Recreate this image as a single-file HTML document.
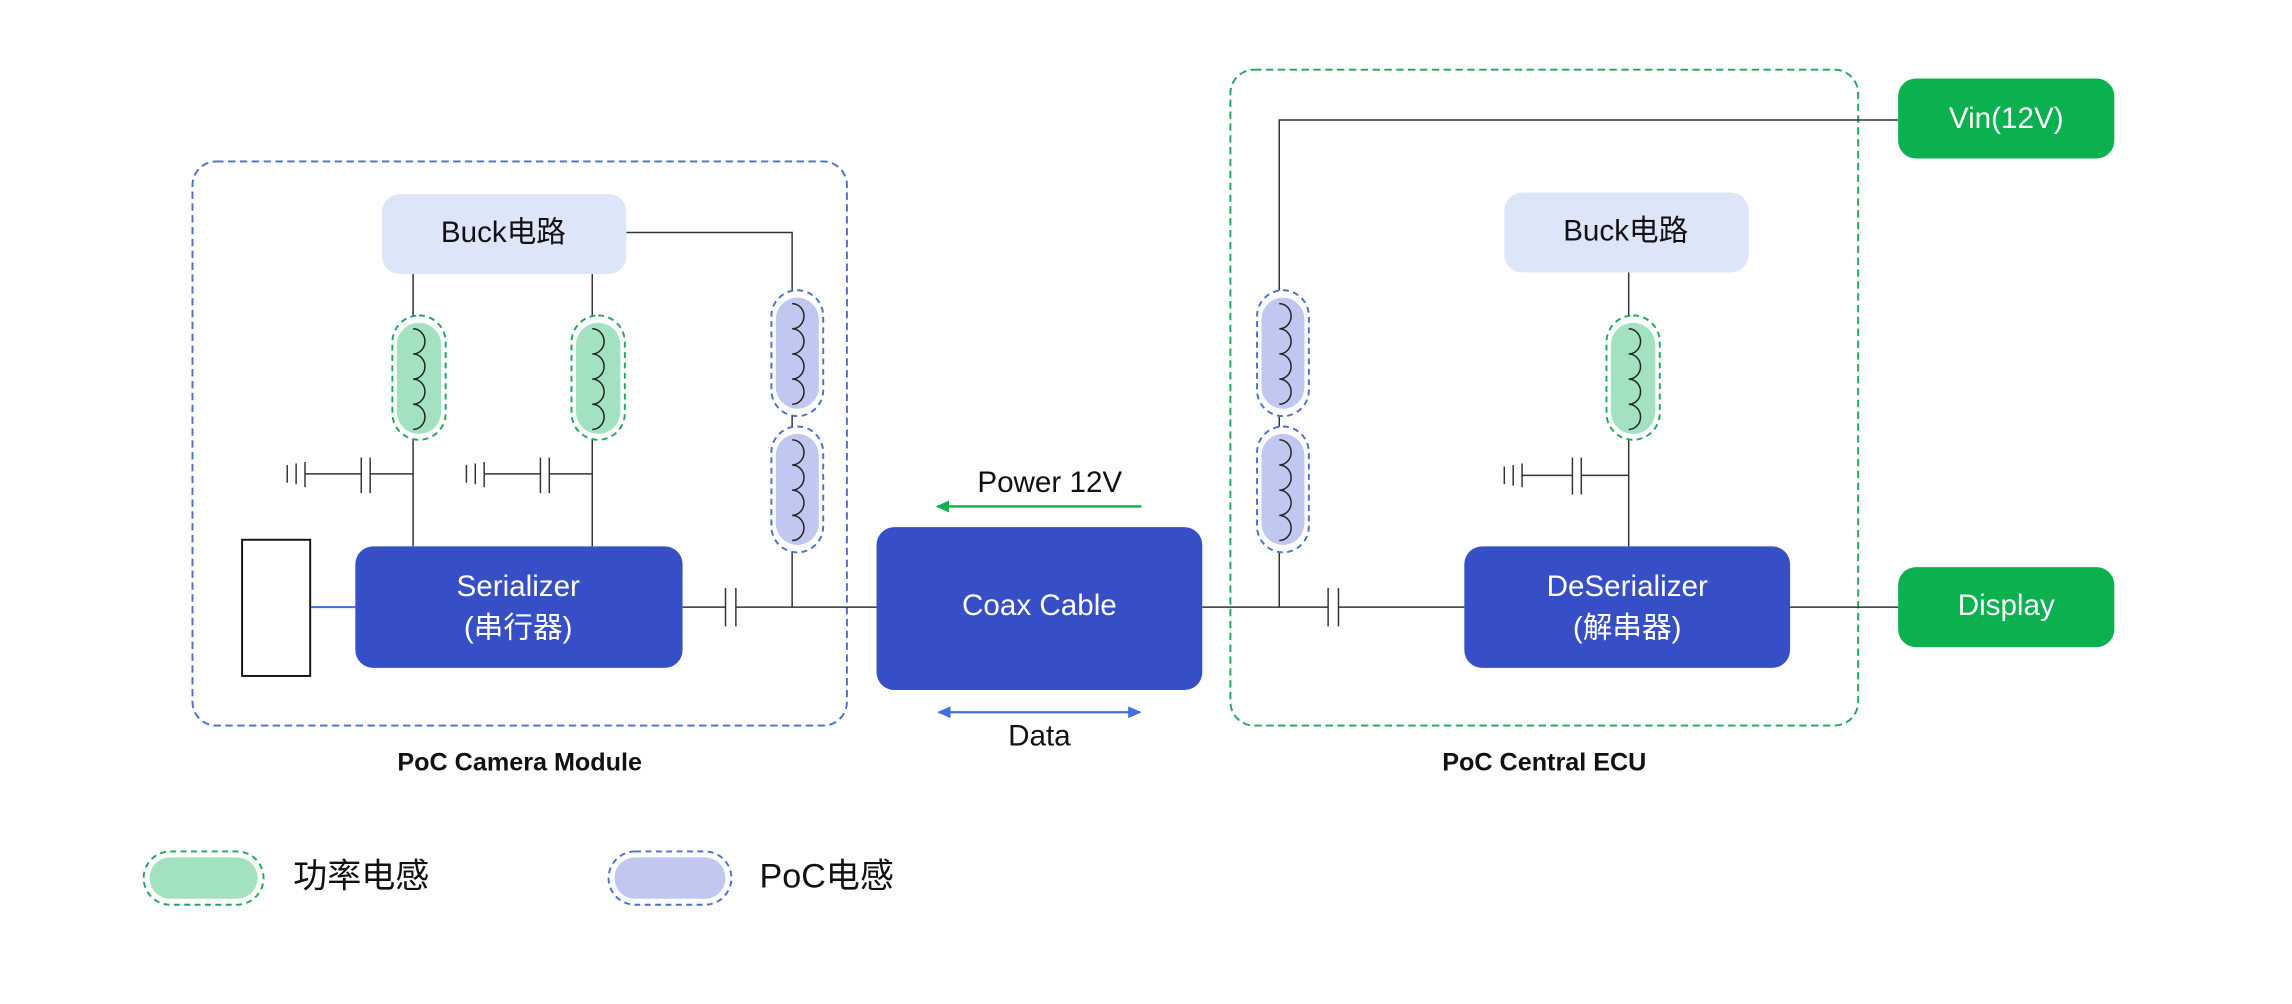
<!DOCTYPE html>
<html><head><meta charset="utf-8"><style>
html,body{margin:0;padding:0;background:#fff;}
svg{display:block;}
text{font-family:"Liberation Sans","Noto Sans CJK SC",sans-serif;}
</style></head><body>
<svg width="2292" height="1004" viewBox="0 0 1548 678" xmlns="http://www.w3.org/2000/svg">
<defs>
<marker id="ag" markerWidth="10" markerHeight="10" refX="8" refY="5" orient="auto-start-reverse" markerUnits="userSpaceOnUse"><path d="M0,1 L9,5 L0,9 z" fill="#0bb04f"/></marker>
<marker id="ab" markerWidth="10" markerHeight="10" refX="8" refY="5" orient="auto-start-reverse" markerUnits="userSpaceOnUse"><path d="M0,1 L9,5 L0,9 z" fill="#3d6fe0"/></marker>
</defs>
<rect width="1548" height="678" fill="#fff"/>
<!-- containers -->
<rect x="130" y="109" width="442" height="381" rx="16" fill="none" stroke="#4a6fd0" stroke-width="1.3" stroke-dasharray="5,3"/>
<rect x="831" y="47" width="424" height="443" rx="16" fill="none" stroke="#1ea85a" stroke-width="1.3" stroke-dasharray="5,3"/>
<g fill="none" stroke="#333" stroke-width="1">
<!-- left wiring -->
<line x1="279" y1="185" x2="279" y2="369"/>
<line x1="400" y1="185" x2="400" y2="369"/>
<polyline points="423,157 535,157 535,410"/>
<line x1="461" y1="410" x2="490" y2="410"/><line x1="497" y1="410" x2="592" y2="410"/>
<line x1="490" y1="397" x2="490" y2="423"/><line x1="497" y1="397" x2="497" y2="423"/>
<!-- caps left -->
<line x1="279" y1="320" x2="250" y2="320"/><line x1="250" y1="309" x2="250" y2="333"/><line x1="244" y1="309" x2="244" y2="333"/><line x1="244" y1="320" x2="206" y2="320"/>
<line x1="206" y1="312" x2="206" y2="329"/><line x1="200" y1="313" x2="200" y2="327"/><line x1="194" y1="314" x2="194" y2="326"/>
<line x1="400" y1="320" x2="371" y2="320"/><line x1="371" y1="309" x2="371" y2="333"/><line x1="365" y1="309" x2="365" y2="333"/><line x1="365" y1="320" x2="327" y2="320"/>
<line x1="327" y1="312" x2="327" y2="329"/><line x1="321" y1="313" x2="321" y2="327"/><line x1="315" y1="314" x2="315" y2="326"/>
<!-- right wiring -->
<line x1="812" y1="410" x2="897" y2="410"/><line x1="904" y1="410" x2="989" y2="410"/>
<line x1="897" y1="397" x2="897" y2="423"/><line x1="904" y1="397" x2="904" y2="423"/>
<polyline points="864,410 864,81 1282,81"/>
<line x1="1100" y1="184" x2="1100" y2="369"/>
<line x1="1209" y1="410" x2="1282" y2="410"/>
<line x1="1100" y1="321" x2="1068" y2="321"/><line x1="1068" y1="309" x2="1068" y2="334"/><line x1="1062" y1="309" x2="1062" y2="334"/><line x1="1062" y1="321" x2="1028" y2="321"/>
<line x1="1028" y1="313" x2="1028" y2="329"/><line x1="1022" y1="314" x2="1022" y2="328"/><line x1="1016" y1="315" x2="1016" y2="327"/>
</g>
<line x1="209" y1="410" x2="240" y2="410" stroke="#3d6fe0" stroke-width="1.3"/>
<!-- inductors -->
<g stroke-width="1.3" stroke-dasharray="4,3">
<rect x="265" y="213" width="36" height="84" rx="18" fill="#fff" stroke="#1ea85a"/>
<rect x="386" y="213" width="36" height="84" rx="18" fill="#fff" stroke="#1ea85a"/>
<rect x="1085" y="213" width="36" height="84" rx="18" fill="#fff" stroke="#1ea85a"/>
<rect x="521" y="196" width="35" height="85" rx="17.5" fill="#fff" stroke="#4a6fd0"/>
<rect x="521" y="288" width="35" height="85" rx="17.5" fill="#fff" stroke="#4a6fd0"/>
<rect x="849" y="196" width="35" height="85" rx="17.5" fill="#fff" stroke="#4a6fd0"/>
<rect x="849" y="288" width="35" height="85" rx="17.5" fill="#fff" stroke="#4a6fd0"/>
<rect x="97" y="575" width="81" height="36" rx="18" fill="#fff" stroke="#1ea85a"/>
<rect x="411" y="575" width="83" height="36" rx="18" fill="#fff" stroke="#4a6fd0"/>
</g>
<g>
<rect x="268" y="218" width="30" height="75" rx="15" fill="#a3e2c0"/>
<rect x="389" y="218" width="30" height="75" rx="15" fill="#a3e2c0"/>
<rect x="1088" y="218" width="30" height="75" rx="15" fill="#a3e2c0"/>
<rect x="524" y="201" width="29" height="75" rx="14.5" fill="#c0c7f0"/>
<rect x="524" y="293" width="29" height="75" rx="14.5" fill="#c0c7f0"/>
<rect x="852" y="201" width="29" height="75" rx="14.5" fill="#c0c7f0"/>
<rect x="852" y="293" width="29" height="75" rx="14.5" fill="#c0c7f0"/>
<rect x="101" y="579" width="73" height="28" rx="14" fill="#a3e2c0"/>
<rect x="415" y="579" width="75" height="28" rx="14" fill="#c0c7f0"/>
</g>
<g fill="none" stroke="#222" stroke-width="1">
<path d="M279,222 a8 8.5 0 0 1 0 17 a8 8.5 0 0 1 0 17 a8 8.5 0 0 1 0 17 a8 8.5 0 0 1 0 17"/>
<path d="M400,222 a8 8.5 0 0 1 0 17 a8 8.5 0 0 1 0 17 a8 8.5 0 0 1 0 17 a8 8.5 0 0 1 0 17"/>
<path d="M1100,222 a8 8.5 0 0 1 0 17 a8 8.5 0 0 1 0 17 a8 8.5 0 0 1 0 17 a8 8.5 0 0 1 0 17"/>
<path d="M535,205 a8 8.5 0 0 1 0 17 a8 8.5 0 0 1 0 17 a8 8.5 0 0 1 0 17 a8 8.5 0 0 1 0 17"/>
<path d="M535,297 a8 8.5 0 0 1 0 17 a8 8.5 0 0 1 0 17 a8 8.5 0 0 1 0 17 a8 8.5 0 0 1 0 17"/>
<path d="M864,205 a8 8.5 0 0 1 0 17 a8 8.5 0 0 1 0 17 a8 8.5 0 0 1 0 17 a8 8.5 0 0 1 0 17"/>
<path d="M864,297 a8 8.5 0 0 1 0 17 a8 8.5 0 0 1 0 17 a8 8.5 0 0 1 0 17 a8 8.5 0 0 1 0 17"/>
</g>
<!-- boxes -->
<rect x="258" y="131" width="165" height="54" rx="12" fill="#dde6f8"/>
<rect x="1016" y="130" width="165" height="54" rx="12" fill="#dde6f8"/>
<rect x="163.5" y="364.5" width="46" height="92" fill="#fff" stroke="#111" stroke-width="1.3"/>
<rect x="240" y="369" width="221" height="82" rx="12" fill="#364fc7"/>
<rect x="592" y="356" width="220" height="110" rx="12" fill="#364fc7"/>
<rect x="989" y="369" width="220" height="82" rx="12" fill="#364fc7"/>
<rect x="1282" y="53" width="146" height="54" rx="12" fill="#0bb04f"/>
<rect x="1282" y="383" width="146" height="54" rx="12" fill="#0bb04f"/>
<!-- arrows -->
<line x1="771" y1="342" x2="633" y2="342" stroke="#0bb04f" stroke-width="1.6" marker-end="url(#ag)"/>
<line x1="634" y1="481" x2="770" y2="481" stroke="#3d6fe0" stroke-width="1.6" marker-start="url(#ab)" marker-end="url(#ab)"/>
<!-- text -->
<g font-size="20" text-anchor="middle" dominant-baseline="central">
<text x="340" y="157" fill="#111">Buck电路</text>
<text x="1098" y="156" fill="#111">Buck电路</text>
<text x="350" y="396" fill="#fff">Serializer</text>
<text x="350" y="424" fill="#fff">(串行器)</text>
<text x="702" y="409" fill="#fff">Coax Cable</text>
<text x="1099" y="396" fill="#fff">DeSerializer</text>
<text x="1099" y="424" fill="#fff">(解串器)</text>
<text x="1355" y="80" fill="#fff">Vin(12V)</text>
<text x="1355" y="409" fill="#fff">Display</text>
<text x="709" y="326" fill="#111">Power 12V</text>
<text x="702" y="497" fill="#111">Data</text>
<text x="351" y="515" font-size="17" font-weight="bold" fill="#111">PoC Camera Module</text>
<text x="1043" y="515" font-size="17" font-weight="bold" fill="#111">PoC Central ECU</text>
</g>
<g font-size="23" dominant-baseline="central" fill="#111">
<text x="198" y="592">功率电感</text>
<text x="513" y="592">PoC电感</text>
</g>
</svg>
</body></html>
